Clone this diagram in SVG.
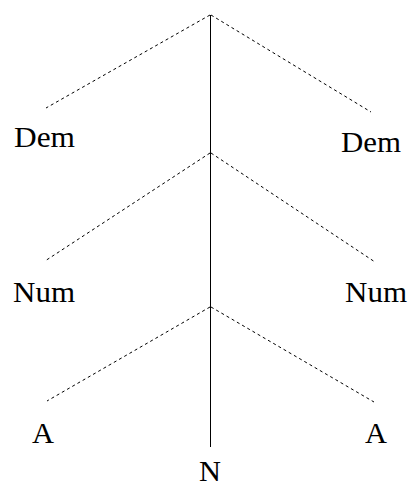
<svg xmlns="http://www.w3.org/2000/svg" width="410" height="489" viewBox="0 0 410 489">
<style>
.d{stroke:#000;stroke-width:1;stroke-dasharray:3,3;fill:none}
.s{stroke:#000;stroke-width:1;fill:none}
text{font-family:"Liberation Serif","Times New Roman",serif;font-size:29px;fill:#000}
</style>
<rect width="410" height="489" fill="#fff"/>
<g id="connectors">
<line class="s" x1="210.5" y1="15" x2="210.5" y2="447"/>
<line class="d" x1="210" y1="15" x2="46" y2="108"/>
<line class="d" x1="211" y1="15" x2="371" y2="112"/>
<line class="d" x1="210" y1="153" x2="45" y2="261"/>
<line class="d" x1="211" y1="153" x2="375" y2="262"/>
<line class="d" x1="210" y1="307" x2="47" y2="401"/>
<line class="d" x1="211" y1="307" x2="374" y2="402"/>
</g>
<g id="dem-left"><text x="14" y="147" textLength="61" lengthAdjust="spacingAndGlyphs">Dem</text></g>
<g id="dem-right"><text x="341" y="152" textLength="60" lengthAdjust="spacingAndGlyphs">Dem</text></g>
<g id="num-left"><text x="13" y="302" textLength="62" lengthAdjust="spacingAndGlyphs">Num</text></g>
<g id="num-right"><text x="345" y="302" textLength="62" lengthAdjust="spacingAndGlyphs">Num</text></g>
<g id="a-left"><text x="32" y="443" textLength="22" lengthAdjust="spacingAndGlyphs">A</text></g>
<g id="a-right"><text x="365" y="443" textLength="22" lengthAdjust="spacingAndGlyphs">A</text></g>
<g id="n"><text x="199" y="481" textLength="22" lengthAdjust="spacingAndGlyphs">N</text></g>
</svg>
